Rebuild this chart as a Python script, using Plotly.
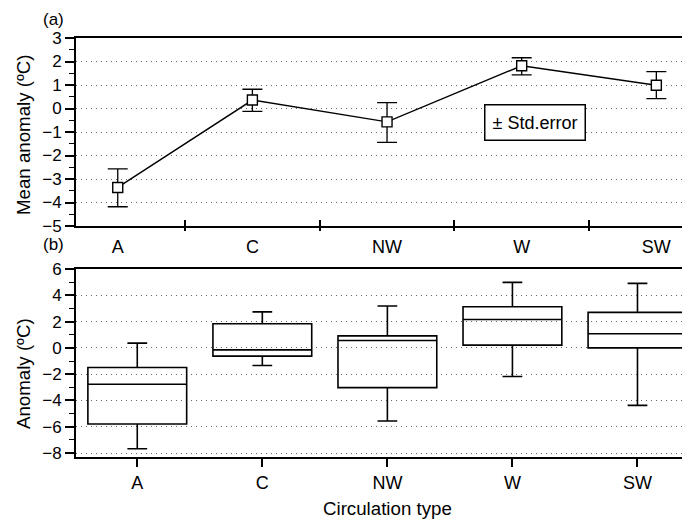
import plotly.graph_objects as go

categories = ["A", "C", "NW", "W", "SW"]
mean_anom = [-3.36, 0.36, -0.57, 1.82, 0.99]
se_plus = [0.79, 0.46, 0.82, 0.34, 0.58]
se_minus = [0.82, 0.48, 0.87, 0.39, 0.57]

q1 = [-5.79, -0.63, -3.02, 0.21, 0.0]
median = [-2.77, -0.15, 0.56, 2.16, 1.07]
q3 = [-1.49, 1.83, 0.91, 3.13, 2.70]
lower = [-7.67, -1.34, -5.56, -2.18, -4.37]
upper = [0.36, 2.74, 3.18, 4.98, 4.91]

ytick_a = [3, 2, 1, 0, -1, -2, -3, -4, -5]
ytick_a_text = ["3", "2", "1", "0", "−1", "−2", "−3", "−4", "−5"]
ytick_b = [6, 4, 2, 0, -2, -4, -6, -8]
ytick_b_text = ["6", "4", "2", "0", "−2", "−4", "−6", "−8"]

xpos = list(range(len(categories)))
mids = [i + 0.5 for i in xpos[:-1]]

FONT = "Liberation Sans, Arial, sans-serif"

PW, PH = 614, 419  # plot-area size in px


def px(x):
    return (x - 76) / PW


def py(y):
    return (457 - y) / PH


fig = go.Figure()

fig.add_trace(go.Scatter(
    x=xpos, y=mean_anom, mode="lines+markers",
    line=dict(color="black", width=1.4),
    marker=dict(symbol="square", size=10, color="white",
                line=dict(color="black", width=1.4)),
    error_y=dict(type="data", array=se_plus, arrayminus=se_minus,
                 color="black", thickness=1.3, width=10),
    xaxis="x", yaxis="y", showlegend=False))

fig.add_trace(go.Scatter(x=[], y=[], xaxis="x3", yaxis="y", showlegend=False))

fig.add_trace(go.Box(
    x=xpos, q1=q1, median=median, q3=q3, lowerfence=lower, upperfence=upper,
    width=0.79, whiskerwidth=0.2, fillcolor="rgba(255,255,255,0)",
    line=dict(color="black", width=1.6), boxpoints=False,
    xaxis="x2", yaxis="y2", showlegend=False))

grid = dict(showgrid=True, gridcolor="#666666", griddash="1px,4px", gridwidth=1)
tickfont = dict(family=FONT, size=17, color="black")
catfont = dict(family=FONT, size=18, color="black")
titlefont = dict(family=FONT, size=18.7, color="black")

fig.update_layout(
    width=682, height=513,
    margin=dict(l=68, r=0, t=30, b=64),
    paper_bgcolor="white", plot_bgcolor="white",
    font=dict(family=FONT, color="black"),
    xaxis=dict(domain=[0, 1], anchor="y", range=[-0.31, 4.25], automargin=False,
               tickvals=xpos, ticktext=categories, ticks="", tickfont=catfont,
               ticklabelstandoff=3,
               showline=True, linecolor="black", linewidth=2, mirror=True,
               showgrid=False, zeroline=False,
               minor=dict(tickvals=mids, ticks="inside", ticklen=6,
                          tickcolor="black", tickwidth=1.5, showgrid=False)),
    xaxis3=dict(overlaying="x", anchor="y", range=[-0.31, 4.25], automargin=False,
                tickvals=mids, ticks="outside", ticklen=4, tickcolor="black",
                tickwidth=1.5, showticklabels=False, showline=False,
                showgrid=False, zeroline=False),
    yaxis=dict(domain=[py(226), 1], anchor="x", range=[-5, 3], automargin=False,
               tickvals=ytick_a, ticktext=ytick_a_text,
               ticks="outside", ticklen=9, tickwidth=1.5, tickcolor="black",
               tickfont=tickfont, showline=True, linecolor="black", linewidth=2,
               zeroline=False,
               minor=dict(dtick=0.5, ticks="outside", ticklen=5,
                          tickcolor="black", tickwidth=1.2, showgrid=False),
               **grid),
    xaxis2=dict(domain=[0, 1], anchor="y2", range=[-0.49, 4.42], automargin=False,
                tickvals=xpos, ticktext=categories, ticks="outside", ticklen=8,
                tickwidth=1.5, tickcolor="black", tickfont=catfont,
                showline=True, linecolor="black", linewidth=2, mirror=True,
                showgrid=False, zeroline=False),
    yaxis2=dict(domain=[0, py(269)], anchor="x2", range=[-8.3, 6], automargin=False,
                tickvals=ytick_b, ticktext=ytick_b_text,
                ticks="outside", ticklen=9, tickwidth=1.5, tickcolor="black",
                tickfont=tickfont, showline=True, linecolor="black", linewidth=2,
                zeroline=False,
                minor=dict(dtick=1, ticks="outside", ticklen=5,
                           tickcolor="black", tickwidth=1.2, showgrid=False),
                **grid),
    annotations=[
        dict(text="(a)", x=px(53), y=py(19), xref="paper", yref="paper",
             xanchor="center", yanchor="middle",
             showarrow=False, font=dict(size=17, family=FONT)),
        dict(text="(b)", x=px(53), y=py(244), xref="paper", yref="paper",
             xanchor="center", yanchor="middle",
             showarrow=False, font=dict(size=17, family=FONT)),
        dict(text="± Std.error", x=3.1, y=-0.6, xref="x", yref="y",
             xanchor="center", yanchor="middle",
             showarrow=False, bordercolor="black", borderwidth=1.5,
             borderpad=7, bgcolor="white", font=dict(size=18, family=FONT)),
        dict(text="Mean anomaly (ºC)", x=px(23), y=py(135),
             xref="paper", yref="paper", textangle=-90, showarrow=False,
             xanchor="center", yanchor="middle", font=titlefont),
        dict(text="Anomaly (ºC)", x=px(23), y=py(374),
             xref="paper", yref="paper", textangle=-90, showarrow=False,
             xanchor="center", yanchor="middle", font=titlefont),
        dict(text="Circulation type", x=px(387), y=py(508),
             xref="paper", yref="paper", showarrow=False,
             xanchor="center", yanchor="middle", font=titlefont),
    ],
)

fig.write_html("out.html")
